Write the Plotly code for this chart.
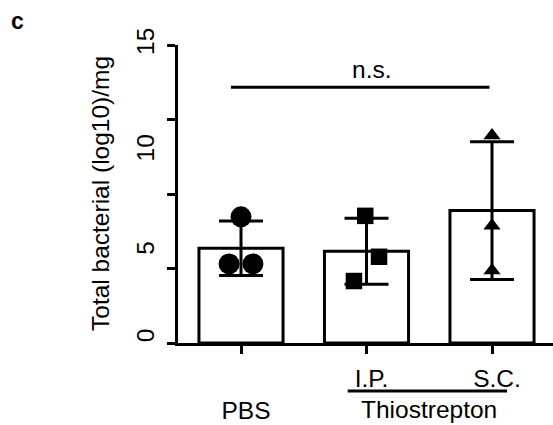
import numpy as np
import plotly.graph_objects as go

# ---- data ----
categories = ["PBS", "I.P.", "S.C."]
tick_text = ["<br>PBS", "I.P.", "S.C."]
pbs_values = [6.35, 3.98, 3.98]
ip_values = [6.40, 4.34, 3.12]
sc_values = [10.45, 5.90, 3.65]
y_tick_labels = ["0", "5", "10", "15"]
group_label = "Thiostrepton"
sig_label = "n.s."
y_title = "Total bacterial (log10)/mg"
panel_label = "c"

# ---- layout constants ----
FONT = "Arial, Liberation Sans, sans-serif"
FS = 24.5
y_label_pos = [0.2, 4.6, 9.64, 15.0]      # where the printed y labels sit
y_tick_marks = [0, 3.75, 7.5, 11.25, 15]
pbs_jitter = [0.0, -0.095, 0.095]
ip_jitter = [-0.01, 0.10, -0.10]
sc_jitter = [0.0, 0.0, 0.0]

groups = [pbs_values, ip_values, sc_values]
means = [float(np.mean(g)) for g in groups]
sds = [float(np.std(g, ddof=1)) for g in groups]
xs = list(range(len(categories)))

fig = go.Figure()
fig.add_trace(go.Bar(
    x=xs, y=means, width=0.67,
    marker=dict(color="white", line=dict(color="black", width=3)),
    error_y=dict(type="data", array=sds, visible=True, color="black",
                 thickness=3, width=22),
    showlegend=False, hoverinfo="skip"))

symbols = ["circle", "square", "triangle-up"]
sizes = [21, 16.5, 15]
jitters = [pbs_jitter, ip_jitter, sc_jitter]
for i, (g, sym, sz, jit) in enumerate(zip(groups, symbols, sizes, jitters)):
    fig.add_trace(go.Scatter(
        x=[i + j for j in jit], y=g, mode="markers",
        marker=dict(symbol=sym, size=sz, color="black", line=dict(width=0)),
        showlegend=False, hoverinfo="skip"))

# dummy trace for the label axis
fig.add_trace(go.Scatter(x=[None], y=[None], yaxis="y2", showlegend=False,
                         hoverinfo="skip"))

fig.update_layout(
    template="none",
    width=553, height=425,
    margin=dict(l=178, r=0, t=45, b=82, autoexpand=False),
    paper_bgcolor="white", plot_bgcolor="white",
    font=dict(family=FONT, size=FS, color="black"),
    xaxis=dict(range=[-0.502, 2.486], tickvals=xs, ticktext=tick_text,
               ticks="outside", ticklen=8, tickwidth=3, tickcolor="black",
               showline=True, linewidth=3, linecolor="black",
               showgrid=False, zeroline=False, automargin=False,
               tickfont=dict(family=FONT, size=FS, color="black"),
               ticklabelshift=5, ticklabelstandoff=4),
    yaxis=dict(range=[0, 15], tickvals=y_tick_marks, showticklabels=False,
               ticks="outside", ticklen=8, tickwidth=3, tickcolor="black",
               showline=True, linewidth=3, linecolor="black",
               showgrid=False, zeroline=False, automargin=False),
    yaxis2=dict(overlaying="y", side="left", range=[0, 15],
                tickvals=y_label_pos, ticktext=y_tick_labels, tickangle=-90,
                ticks="", showline=False, showgrid=False, zeroline=False,
                automargin=False,
                tickfont=dict(family=FONT, size=FS, color="black"),
                ticklabelstandoff=18),
)

# significance bar
fig.add_shape(type="line", xref="x", yref="y", x0=-0.08, x1=1.98, y0=12.87,
              y1=12.87, line=dict(color="black", width=3))
fig.add_annotation(x=1.04, y=13.77, xref="x", yref="y", text=sig_label,
                   showarrow=False, font=dict(family=FONT, size=FS),
                   xanchor="center", yanchor="middle")

# group label with underline
fig.add_shape(type="line", xref="x", yref="paper", x0=0.85, x1=2.12,
              y0=-0.161, y1=-0.161, line=dict(color="black", width=3))
fig.add_annotation(x=1.5, y=-0.2248, xref="x", yref="paper", text=group_label,
                   showarrow=False, font=dict(family=FONT, size=FS),
                   xanchor="center", yanchor="middle")

# y title
fig.add_annotation(x=-0.208, y=0.5, xref="paper", yref="paper", text=y_title,
                   textangle=-90, showarrow=False,
                   font=dict(family=FONT, size=FS),
                   xanchor="center", yanchor="middle")

# panel label
fig.add_annotation(x=-0.4267, y=1.0805, xref="paper", yref="paper",
                   text="<b>" + panel_label + "</b>", showarrow=False,
                   font=dict(family=FONT, size=23),
                   xanchor="center", yanchor="middle")

fig.write_html("out.html", config={"displayModeBar": False},
               post_script="document.body.style.margin='0px';"
                           "document.body.style.padding='0px';")
